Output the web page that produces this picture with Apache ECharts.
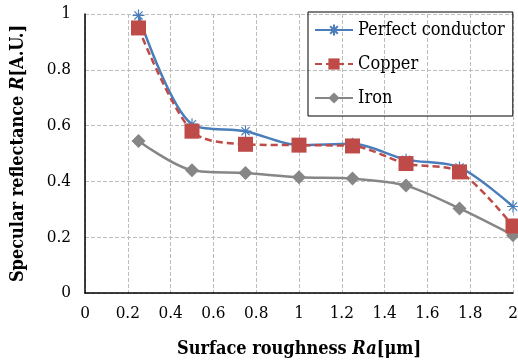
<!DOCTYPE html>
<html>
<head>
<meta charset="utf-8">
<script src="https://cdn.jsdelivr.net/npm/echarts@6/dist/echarts.min.js"></script>
<style>
  html, body { margin: 0; padding: 0; background: #fff; }
  #main { width: 518px; height: 362px; }
</style>
</head>
<body>
<div id="main"></div>
<script>
// roughness Ra [um]
var roughness = [0.25, 0.5, 0.75, 1.0, 1.25, 1.5, 1.75, 2.0];
var perfectConductor = [0.995, 0.605, 0.58, 0.53, 0.535, 0.478, 0.45, 0.31];
var copper = [0.95, 0.58, 0.533, 0.53, 0.527, 0.464, 0.434, 0.24];
var iron = [0.545, 0.44, 0.43, 0.415, 0.41, 0.385, 0.303, 0.207];

var seriesNames = ['Perfect conductor', 'Copper', 'Iron'];

function pairs(vals) {
	var out = [];
	for (var i = 0; i < roughness.length; i++) {
		out.push([roughness[i], vals[i]]);
	}
	return out;
}

var font = "'DejaVu Serif Condensed', 'DejaVu Serif', serif";
var star = 'path://M0,5L10,5M5,0L5,10M1.6,1.6L8.4,8.4M8.4,1.6L1.6,8.4';

var chart = echarts.init(document.getElementById('main'));
var option = {
	animation: false,
	textStyle: { fontFamily: font },
	grid: { left: 85, right: 5, top: 14, bottom: 69, containLabel: false, outerBoundsMode: 'none' },
	legend: {
		orient: 'vertical',
		left: 308,
		top: 12,
		width: 207,
		padding: [9, 8, 9, 6],
		itemGap: 16,
		itemWidth: 38,
		itemHeight: 14,
		borderColor: '#000',
		borderWidth: 1,
		textStyle: { fontFamily: font, fontSize: 18, color: '#000' },
		data: seriesNames
	},
	xAxis: {
		type: 'value',
		min: 0,
		max: 2,
		interval: 0.2,
		axisLine: { lineStyle: { color: '#000', width: 1.5 } },
		axisTick: { show: false },
		axisLabel: { fontFamily: font, fontSize: 17, color: '#000', margin: 12,
			formatter: function (v) { return +v.toFixed(1) + ''; } },
		splitLine: { show: true, lineStyle: { color: '#BDBDBD', type: 'dashed' } },
		name: '{b|Surface roughness }{bi|Ra}{b|[μm]}',
		nameLocation: 'middle',
		nameGap: 47,
		nameTextStyle: {
			rich: {
				b: { fontFamily: font, fontSize: 18, fontWeight: 'bold', color: '#000' },
				bi: { fontFamily: font, fontSize: 18, fontWeight: 'bold', fontStyle: 'italic', color: '#000' }
			}
		}
	},
	yAxis: {
		type: 'value',
		min: 0,
		max: 1,
		interval: 0.2,
		axisLine: { show: true, lineStyle: { color: '#000', width: 1.5 } },
		axisTick: { show: false },
		axisLabel: { fontFamily: font, fontSize: 17, color: '#000', margin: 14 },
		splitLine: { show: true, lineStyle: { color: '#BDBDBD', type: 'dashed' } },
		name: '{b|Specular reflectance }{bi|R}{b|[A.U.]}',
		nameLocation: 'middle',
		nameGap: 58,
		nameTextStyle: {
			rich: {
				b: { fontFamily: font, fontSize: 18, fontWeight: 'bold', color: '#000' },
				bi: { fontFamily: font, fontSize: 18, fontWeight: 'bold', fontStyle: 'italic', color: '#000' }
			}
		}
	},
	series: [
		{
			name: seriesNames[0],
			type: 'line',
			smooth: 0.3,
			z: 3,
			data: pairs(perfectConductor),
			symbol: star,
			symbolSize: 12,
			lineStyle: { color: '#4A7EBB', width: 2.5 },
			itemStyle: { color: 'rgba(0,0,0,0)', borderColor: '#4A7EBB', borderWidth: 1.2 }
		},
		{
			name: seriesNames[1],
			type: 'line',
			smooth: 0.3,
			z: 4,
			data: pairs(copper),
			symbol: 'rect',
			symbolSize: 15,
			lineStyle: { color: '#BE4B48', width: 2.5, type: [7, 4] },
			itemStyle: { color: '#BE4B48' }
		},
		{
			name: seriesNames[2],
			type: 'line',
			smooth: 0.3,
			z: 2,
			data: pairs(iron),
			symbol: 'diamond',
			symbolSize: 14,
			lineStyle: { color: '#868686', width: 2.5 },
			itemStyle: { color: '#868686' }
		}
	]
};
chart.setOption(option);
</script>
</body>
</html>
